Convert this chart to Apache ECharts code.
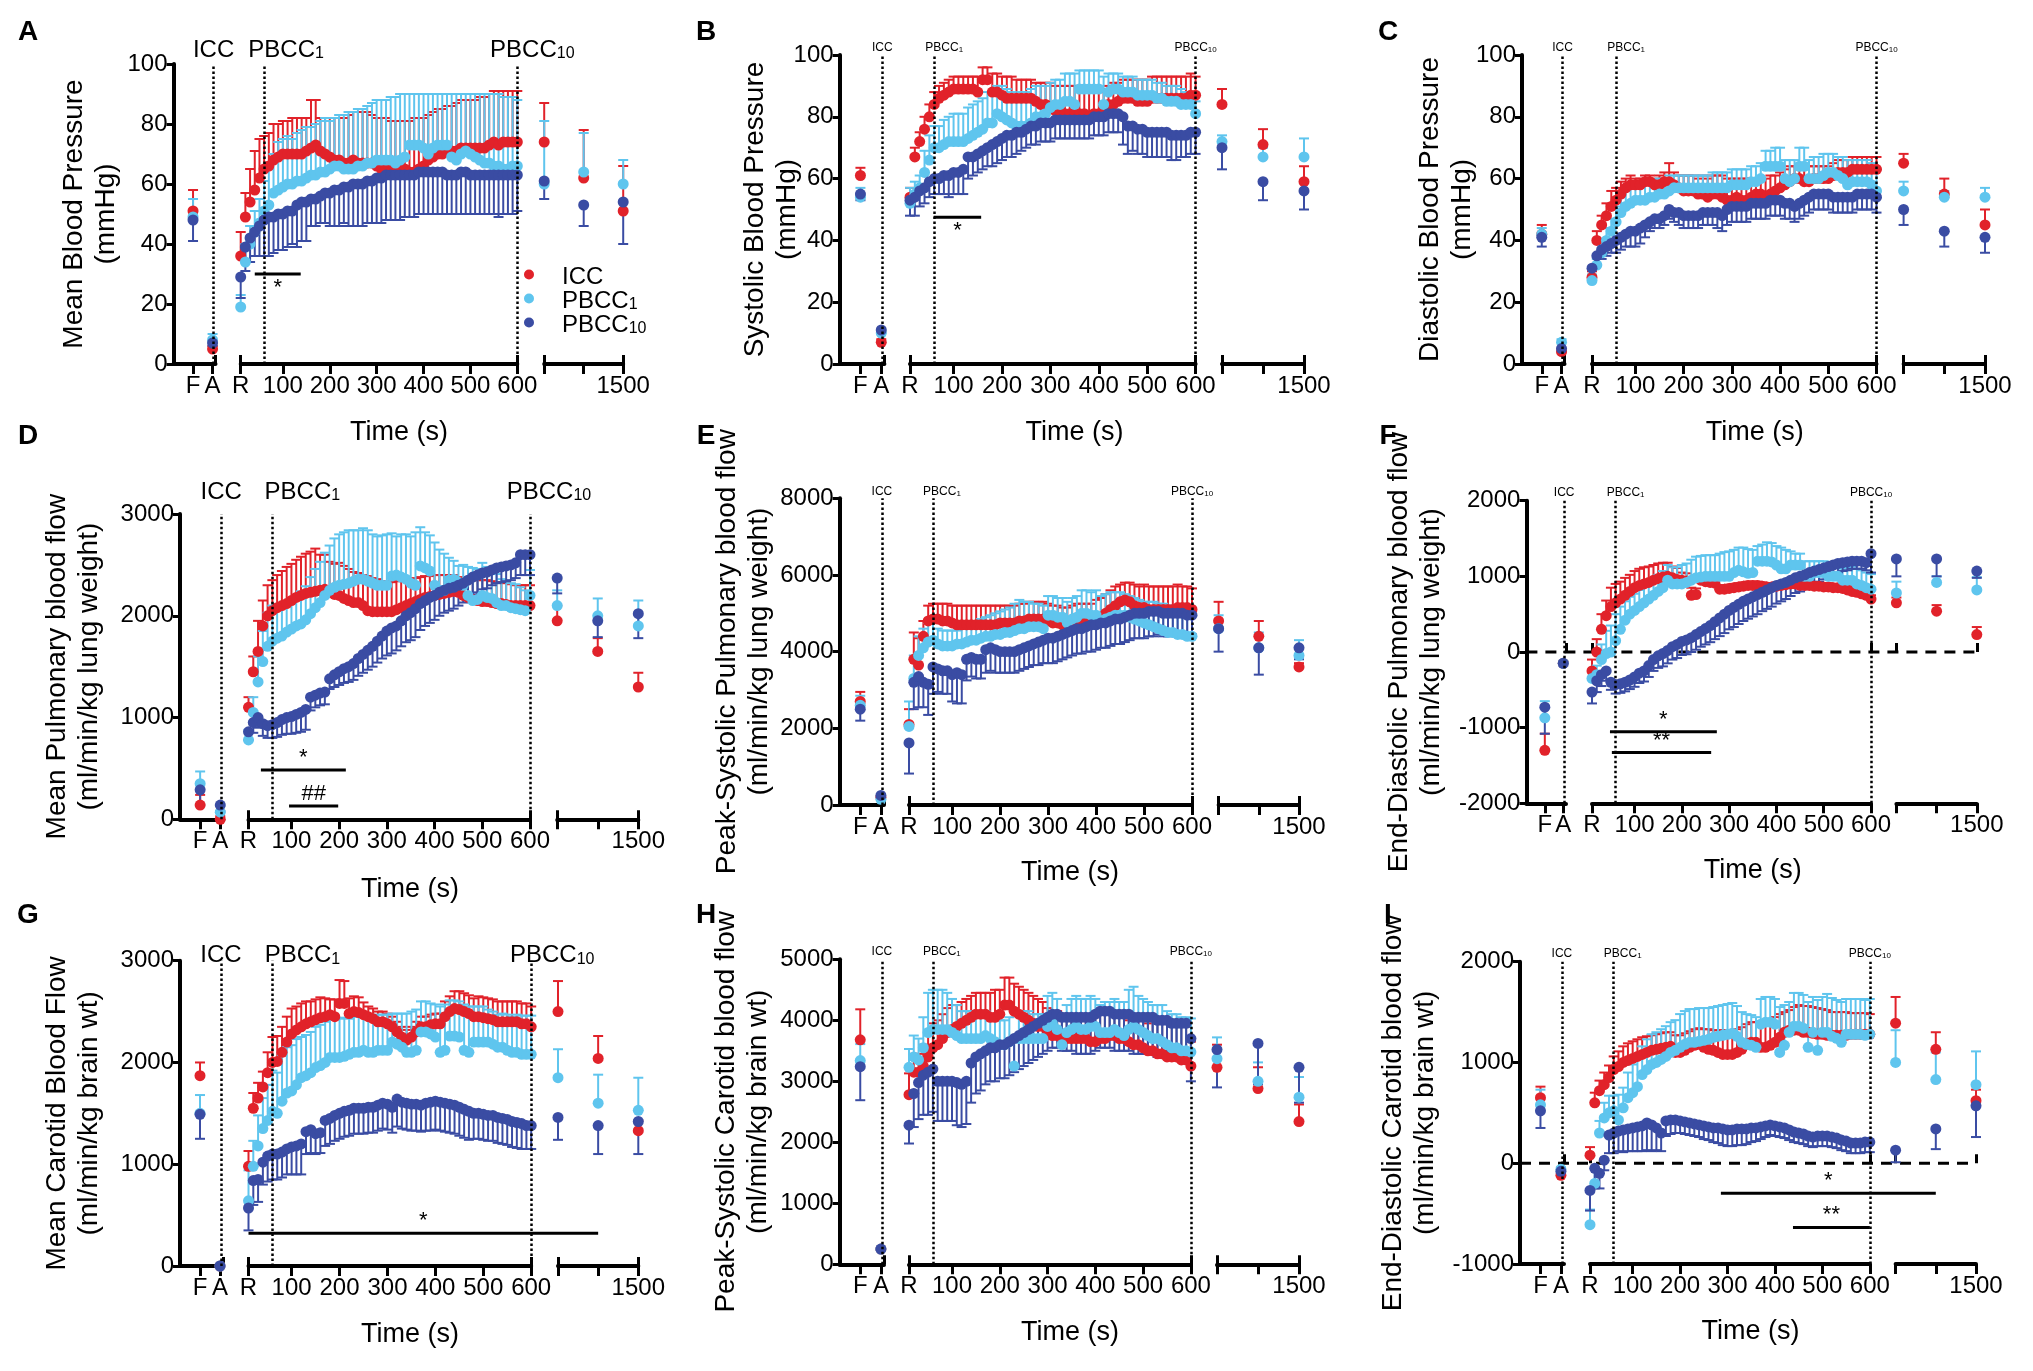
<!DOCTYPE html>
<html>
<head>
<meta charset="UTF-8">
<title>Haemodynamics after cardiac arrest</title>
<script src="https://cdn.jsdelivr.net/npm/echarts@6.0.0/dist/echarts.min.js"></script>
<style>
  html, body { margin: 0; padding: 0; background: #fff; }
  #main { width: 2033px; height: 1371px; }
</style>
</head>
<body>
<div id="main"></div>
<script type="text/javascript">
// ---- shared axis data ----
var secs = [10,20,30,40,50,60,70,80,90,100,110,120,130,140,150,160,170,180,190,200,
  210,220,230,240,250,260,270,280,290,300,310,320,330,340,350,360,370,380,390,400,
  410,420,430,440,450,460,470,480,490,500,510,520,530,540,550,560,570,580,590,600];
var preX = [1, 2];
var preLabels = ['F', 'A'];
var postX = [900, 1200, 1500];
var mainTicks = [10, 100, 200, 300, 400, 500, 600];
var mainTickLabels = ['R', '100', '200', '300', '400', '500', '600'];
var groups = ['ICC', 'PBCC1', 'PBCC10'];
var colors = ['#E1222A', '#5FC5EE', '#3A4CA3'];
var errDir = [1, 1, -1];   // ICC / PBCC1 bars up, PBCC10 bars down
// side arrays: [F, A, 900, 1200, 1500]

// A  Mean blood pressure (mmHg)
var aIcc = [36,49,54,58,62,65,66,68,69,70, 70,70,70,70,71,72,73,71,70,69,
  68,68,67,67,68,67,67,67,67,66, 65,65,64,65,65,65,64,64,65,66,
  68,69,70,70,71,71,71,72,72,72, 72,72,72,73,74,73,74,74,74,74];
var aIccErr = [8,8,11,13,13,11,11,12,11,11, 11,12,12,12,11,16,15,11,12,13,
  14,14,15,16,16,17,17,17,16,16, 17,17,17,16,16,16,17,18,17,16,
  15,15,15,15,15,15,16,16,16,16, 16,17,17,17,17,18,17,17,17,17];
var aIccSide = [51, 5, 74, 62, 51];
var aIccSideErr = [7, 1, 13, 16, 15];
var aPb1 = [19,34,40,44,47,51,53,57,58,59, 60,60,61,61,62,63,63,64,64,65,
  66,66,65,65,65,66,66,67,67,68, 68,68,68,67,68,69,73,73,73,72,
  70,72,73,73,73,69,68,70,71,70, 69,68,67,67,66,66,65,65,66,66];
var aPb1Err = [4,6,6,7,8,10,14,13,16,16, 16,15,16,17,17,16,17,17,18,16,
  16,17,18,19,19,19,19,19,20,20, 20,20,21,22,22,21,17,17,17,18,
  20,18,17,17,17,21,22,20,19,20, 21,22,23,23,24,24,24,24,23,22];
var aPb1Side = [49, 8, 60, 64, 60];
var aPb1SideErr = [6, 2, 21, 13, 8];
var aPb10 = [29,39,42,44,46,48,49,49,50,50, 51,51,53,54,54,55,55,56,57,57,
  58,58,59,59,60,60,60,61,61,62, 62,63,63,63,63,63,63,63,64,64,
  64,64,64,64,63,63,63,64,64,63, 63,63,63,63,63,63,63,63,63,63];
var aPb10Err = [7,8,8,8,10,12,13,12,12,12, 12,11,14,13,13,9,9,9,10,11,
  12,12,12,13,14,14,14,14,14,15, 15,15,15,15,15,14,14,14,14,14,
  14,14,14,14,13,13,13,14,14,13, 13,13,13,13,13,14,13,13,13,12];
var aPb10Side = [48, 7, 61, 53, 54];
var aPb10SideErr = [7, 1, 6, 7, 14];

// B  Systolic blood pressure (mmHg)
var bIcc = [54,67,72,76,80,84,86,87,88,89, 89,89,89,89,88,92,92,88,88,87,
  86,86,86,86,86,86,85,84,84,83, 82,82,81,81,81,81,81,80,81,81,
  83,84,84,85,86,86,86,85,85,85, 86,86,86,86,86,86,86,86,87,87];
var bIccErr = [3,3,3,4,4,4,4,4,4,4, 4,4,4,4,5,4,4,6,6,6,
  7,7,6,6,6,6,6,7,7,8, 8,8,9,9,9,9,8,8,8,7,
  6,6,7,6,6,6,6,7,7,7, 7,7,7,7,7,7,7,7,7,6];
var bIccSide = [61, 7, 84, 71, 59];
var bIccSideErr = [2.5, 1, 5, 5, 5];
var bPb1 = [52,55,57,62,66,70,70,71,72,72, 72,72,73,74,75,76,78,78,81,80,
  79,78,77,77,77,78,80,80,81,83, 84,84,85,85,84,89,89,89,89,89,
  84,88,89,89,88,88,88,87,87,87, 87,86,86,85,85,85,84,84,84,81];
var bPb1Err = [5,4,4,7,8,7,7,8,8,9, 9,9,10,10,10,10,10,10,9,10,
  10,10,10,11,11,11,10,10,9,8, 8,8,9,9,10,6,6,6,6,6,
  9,6,5,5,5,5,5,5,5,5, 5,5,5,5,5,5,5,4,4,4];
var bPb1Side = [54, 10, 72, 67, 67];
var bPb1SideErr = [3, 1, 2, 3, 6];
var bPb10 = [53,54,56,57,59,60,60,61,61,62, 62,63,67,67,68,69,70,71,72,73,
  74,74,75,75,76,77,77,78,78,78, 79,79,79,79,79,79,79,79,80,80,
  80,81,81,81,80,77,77,76,76,75, 75,75,75,75,74,74,74,74,75,75];
var bPb10Err = [5,6,5,5,5,5,5,6,7,7, 7,8,7,6,6,6,6,7,7,7,
  7,7,7,6,6,6,6,6,6,6, 6,6,6,6,6,6,6,6,6,6,
  6,6,6,6,9,9,8,8,8,8, 8,8,8,8,8,8,7,7,7,7];
var bPb10Side = [55, 11, 70, 59, 56];
var bPb10SideErr = [2, 1, 7, 6, 6];

// C  Diastolic blood pressure (mmHg)
var cIcc = [28,40,45,48,51,53,55,57,58,58, 58,59,59,58,58,59,59,58,57,56,
  56,56,55,55,54,55,55,54,53,53, 54,53,53,54,55,55,54,55,56,57,
  58,59,60,60,59,59,60,60,60,60, 61,62,62,62,63,63,63,63,63,63];
var cIccErr = [2,3,3,4,5,4,4,3,3,2, 2,2,2,2,3,3,6,4,4,5,
  5,5,5,6,6,6,6,7,7,7, 6,7,7,6,5,5,6,6,5,5,
  5,5,4,4,5,5,4,4,4,4, 4,4,4,4,4,4,4,4,4,4];
var cIccSide = [42, 4, 65, 55, 45];
var cIccSideErr = [3, 1, 3, 5, 5];
var cPb1 = [27,32,36,40,43,46,49,51,52,53, 53,53,54,54,55,55,56,57,57,57,
  57,57,57,57,57,57,57,57,57,58, 58,58,58,59,59,60,64,64,64,64,
  60,59,60,64,64,60,60,60,61,62, 62,61,60,58,59,59,59,59,58,56];
var cPb1Err = [2,2,3,4,4,5,5,5,5,5, 5,5,5,5,5,5,5,4,4,4,
  4,4,4,4,4,5,5,5,5,5, 5,5,5,5,5,5,5,5,6,6,
  6,7,6,6,6,6,7,7,7,6, 6,6,7,8,7,7,7,7,7,7];
var cPb1Side = [42, 7, 56, 54, 54];
var cPb1SideErr = [2, 1, 3, 2, 3];
var cPb10 = [31,35,37,38,39,40,41,42,43,43, 44,45,46,47,47,48,50,49,49,48,
  48,48,48,49,49,49,49,48,50,51, 51,51,51,52,52,52,52,53,53,53,
  52,52,51,52,53,54,55,55,55,55, 54,54,54,54,54,55,55,55,55,54];
var cPb10Err = [3,3,3,3,3,4,4,4,5,5, 5,4,3,3,3,3,3,3,4,4,
  4,4,4,4,4,4,5,5,5,5, 5,5,5,5,5,5,5,5,5,5,
  5,5,5,5,5,5,5,5,5,5, 5,5,5,5,5,5,5,5,5,5];
var cPb10Side = [41, 5, 50, 43, 41];
var cPb10SideErr = [3, 1, 5, 5, 5];

// D  Mean pulmonary blood flow (ml/min/kg lung weight)
var dIcc = [1100,1450,1650,1900,2000,2050,2080,2100,2120,2150, 2180,2200,2220,2230,2240,2250,2260,2230,2210,2200,
  2170,2150,2130,2130,2100,2050,2040,2040,2040,2040, 2040,2060,2080,2100,2120,2140,2160,2180,2190,2200,
  2210,2220,2230,2240,2230,2200,2180,2160,2150,2140, 2140,2130,2120,2120,2110,2100,2100,2100,2100,2100];
var dIccErr = [100,150,300,250,300,300,320,340,360,360, 370,380,390,400,420,350,340,300,300,320,
  320,310,300,290,300,340,330,320,300,300, 290,280,260,250,240,230,220,210,200,200,
  190,180,170,160,150,170,180,190,200,210, 210,210,210,210,210,210,200,200,200,200];
var dIccSide = [140, 0, 1950, 1650, 1300];
var dIccSideErr = [100, 30, 150, 130, 140];
var dPb1 = [780,1050,1350,1550,1700,1750,1780,1800,1840,1870, 1900,1920,1960,2020,2080,2130,2200,2250,2280,2300,
  2310,2320,2340,2360,2360,2340,2320,2300,2300,2300, 2390,2400,2380,2360,2320,2300,2490,2470,2440,2300,
  2250,2250,2350,2360,2330,2300,2200,2150,2160,2200, 2180,2170,2130,2100,2100,2080,2070,2060,2050,2200];
var dPb1Err = [100,150,250,300,330,350,330,300,280,280, 280,320,330,360,380,400,420,440,480,500,
  510,520,500,480,500,500,480,480,490,500, 420,380,420,440,460,520,380,350,350,420,
  400,360,220,180,160,200,280,320,300,320, 300,280,280,260,240,240,240,220,200,250];
var dPb1Side = [350, 70, 2100, 2000, 1900];
var dPb1SideErr = [120, 60, 150, 170, 250];
var dPb10 = [860,950,1000,940,920,930,950,980,1000,1010, 1030,1050,1080,1200,1220,1240,1250,1380,1420,1450,
  1480,1500,1530,1580,1620,1660,1700,1750,1800,1850, 1880,1900,1950,2000,2030,2070,2120,2150,2180,2200,
  2230,2250,2270,2280,2300,2320,2350,2380,2400,2420, 2430,2450,2470,2480,2490,2500,2520,2600,2600,2600];
var dPb10Err = [80,100,100,120,120,130,140,150,160,170, 180,190,200,130,120,120,120,100,120,130,
  140,150,160,170,180,190,200,210,220,240, 250,240,250,260,270,280,260,250,250,240,
  230,220,220,210,200,190,180,170,170,160, 160,150,150,150,150,150,150,200,200,200];
var dPb10Side = [290, 140, 2370, 1950, 2020];
var dPb10SideErr = [150, 60, 150, 160, 240];

// E  Peak-systolic pulmonary blood flow (ml/min/kg lung weight)
var eIcc = [2100,3800,3650,4400,4800,4850,4850,4800,4800,4750, 4700,4700,4700,4700,4700,4700,4700,4700,4700,4750,
  4750,4750,4750,4800,4800,4850,4850,4850,4850,4800, 4750,4750,4700,4700,4750,4800,4800,4800,4800,4850,
  4900,5000,5100,5200,5300,5350,5300,5200,5150,5150, 5100,5100,5100,5100,5100,5100,5150,5150,5150,5100];
var eIccErr = [400,700,700,400,400,400,400,450,450,450, 500,500,500,500,500,500,500,500,500,450,
  450,450,450,450,450,450,450,450,450,450, 450,450,450,450,450,450,450,450,450,500,
  500,500,500,500,450,450,500,550,550,600, 600,600,600,600,600,600,600,550,550,550];
var eIccSide = [2700, 200, 4800, 4400, 3600];
var eIccSideErr = [250, 30, 500, 400, 100];
var ePb1 = [2050,3300,3900,4100,4250,4300,4200,4150,4150,4150, 4200,4200,4250,4300,4300,4350,4400,4400,4450,4450,
  4500,4500,4550,4600,4600,4650,4650,4650,4600,4950, 4950,4900,4900,4750,4850,4900,5000,5000,4950,4950,
  4800,4850,4900,4950,4950,4950,4900,4850,4800,4750, 4700,4650,4600,4550,4500,4500,4450,4450,4400,4400];
var ePb1Err = [650,600,500,500,500,500,400,400,400,400, 350,400,400,400,500,500,500,550,550,600,
  600,650,700,750,700,650,600,600,600,500, 500,500,500,550,550,550,600,600,600,650,
  650,650,650,600,600,550,550,550,550,550, 600,650,650,700,700,700,700,700,700,700];
var ePb1Side = [2600, 150, 4600, 4100, 3900];
var ePb1SideErr = [250, 30, 350, 400, 400];
var ePb10 = [1620,3200,3350,3200,3150,3600,3550,3500,3500,3400, 3450,3400,3800,3850,3800,3800,4050,4100,4050,4000,
  4000,4000,4000,4050,4100,4150,4200,4250,4300,4350, 4350,4400,4450,4500,4550,4600,4600,4650,4700,4700,
  4750,4750,4800,4850,4850,4900,4950,5000,5000,5000, 5050,5050,5050,5000,5000,5000,5000,5000,4950,4950];
var ePb10Err = [800,700,800,650,800,700,600,600,600,700, 800,750,550,500,500,500,600,600,600,550,
  550,550,550,550,550,550,550,600,600,650, 650,650,650,650,650,650,650,650,700,650,
  650,650,650,650,650,650,650,650,650,650, 650,650,600,600,600,550,550,550,500,500];
var ePb10Side = [2500, 250, 4600, 4100, 4100];
var ePb10SideErr = [300, 30, 600, 700, 300];

// F  End-diastolic pulmonary blood flow (ml/min/kg lung weight)
var fIcc = [-250,0,300,480,600,650,700,750,800,850, 880,900,920,950,970,990,1000,980,960,950,
  940,750,760,950,930,920,910,830,830,840, 850,860,870,880,880,880,870,860,860,870,
  880,890,900,900,880,880,880,870,870,860, 860,850,850,840,820,800,790,770,750,700];
var fIccErr = [150,170,200,200,250,250,230,230,220,220, 220,220,210,200,200,190,180,150,150,100,
  100,100,80,50,50,50,50,50,50,50, 50,50,50,50,50,50,50,50,50,50,
  50,50,50,50,50,50,50,50,50,50, 50,50,50,50,50,50,50,50,50,50];
var fIccSide = [-1300, -150, 650, 540, 230];
var fIccSideErr = [220, 30, 70, 80, 100];
var fPb1 = [-350,-300,-100,-20,0,150,300,420,500,550, 600,650,700,750,800,850,950,900,900,900,
  920,950,980,990,1000,1000,1000,1000,1000,1000, 1050,1080,1060,1040,1050,1200,1200,1200,1190,1150,
  1100,1100,1150,1150,1150,1000,1000,1050,1050,1050, 1000,1000,1000,950,950,950,900,880,850,830];
var fPb1Err = [100,120,200,300,350,350,300,250,230,220, 220,220,220,220,220,220,200,220,220,250,
  250,270,280,280,280,280,280,300,320,330, 300,300,320,320,300,200,220,250,250,250,
  280,250,180,150,150,200,200,150,150,150, 150,150,150,150,170,180,200,200,200,200];
var fPb1Side = [-870, -150, 780, 920, 820];
var fPb1SideErr = [220, 30, 150, 80, 170];
var fPb10 = [-530,-380,-300,-250,-400,-430,-420,-400,-370,-330, -280,-250,-180,-100,-50,-20,20,70,100,140,
  160,190,230,270,310,350,400,450,500,550, 590,630,670,700,730,760,790,820,850,880,
  900,920,950,980,1000,1020,1050,1070,1090,1110, 1130,1150,1170,1180,1190,1200,1200,1200,1180,1300];
var fPb10Err = [150,150,150,130,100,120,120,120,120,130, 130,140,150,150,160,170,170,170,180,180,
  190,190,200,200,210,220,230,240,250,250, 260,260,260,260,260,260,250,250,250,240,
  230,220,210,200,200,190,180,170,160,150, 140,130,120,110,110,100,100,100,100,250];
var fPb10Side = [-730, -150, 1230, 1230, 1070];
var fPb10SideErr = [350, 30, 230, 230, 90];

// G  Mean carotid blood flow (ml/min/kg brain wt)
var gIcc = [980,1550,1650,1760,1900,2000,2010,2100,2200,2280, 2320,2350,2380,2400,2420,2440,2450,2470,2450,2580,
  2580,2480,2500,2490,2470,2450,2430,2400,2400,2380, 2350,2300,2250,2220,2250,2300,2350,2350,2370,2380,
  2380,2450,2500,2530,2520,2500,2480,2450,2450,2440, 2430,2420,2400,2400,2400,2400,2400,2380,2380,2350];
var gIccErr = [150,150,150,150,200,250,250,250,250,250, 230,230,220,200,200,200,180,150,170,230,
  220,150,150,150,120,100,100,100,100,100, 100,100,100,100,100,100,100,100,100,100,
  100,150,150,170,180,180,180,180,200,200, 200,200,200,200,200,200,200,200,200,200];
var gIccSide = [1870, 0, 2500, 2040, 1330];
var gIccSideErr = [130, 10, 300, 220, 100];
var gPb1 = [640,980,1180,1350,1430,1520,1500,1620,1700,1720, 1780,1850,1870,1900,1950,1970,2000,2050,2050,2050,
  2060,2080,2100,2100,2120,2100,2100,2120,2120,2120, 2200,2180,2150,2100,2100,2120,2300,2300,2280,2250,
  2100,2120,2260,2260,2250,2120,2100,2200,2200,2200, 2200,2180,2150,2150,2120,2100,2100,2080,2080,2080];
var gPb1Err = [300,250,300,300,350,400,400,450,450,450, 450,400,400,400,400,400,400,380,380,380,
  380,350,350,350,350,350,350,350,350,350, 280,300,330,380,400,400,300,300,300,320,
  450,450,350,350,350,450,450,350,350,350, 320,320,320,330,350,350,370,380,380,380];
var gPb1Side = [1500, 0, 1850, 1600, 1530];
var gPb1SideErr = [180, 10, 280, 280, 320];
var gPb10 = [570,840,850,1020,1080,1100,1100,1120,1150,1170, 1180,1200,1320,1340,1300,1310,1430,1450,1480,1500,
  1520,1530,1550,1550,1550,1560,1560,1580,1600,1590, 1560,1640,1610,1600,1590,1590,1580,1600,1610,1620,
  1610,1600,1590,1580,1560,1540,1520,1500,1500,1490, 1480,1480,1460,1450,1440,1420,1410,1400,1380,1380];
var gPb10Err = [220,240,220,220,250,250,250,250,250,270, 280,300,220,230,200,200,250,250,250,250,
  250,250,250,250,250,250,250,250,250,250, 250,270,260,260,260,260,260,270,280,280,
  280,280,280,280,280,280,280,250,250,250, 250,250,250,250,250,250,250,250,230,230];
var gPb10Side = [1490, 0, 1460, 1380, 1420];
var gPb10SideErr = [240, 10, 220, 280, 320];

// H  Peak-systolic carotid blood flow (ml/min/kg brain wt)
var hIcc = [2780,3150,3150,3250,3400,3550,3600,3700,3800,3850, 3900,3950,4000,4050,4100,4100,4100,4050,4050,4100,
  4250,4250,4150,4100,4050,4000,3950,3900,3900,3800, 3750,3750,3700,3700,3700,3700,3700,3700,3650,3650,
  3700,3700,3750,3750,3700,3700,3650,3600,3600,3550, 3500,3500,3450,3450,3400,3400,3400,3350,3350,3250];
var hIccErr = [350,300,300,350,400,400,400,400,400,400, 350,350,350,350,350,350,350,400,450,400,
  450,450,450,450,450,450,450,450,400,400, 400,400,400,400,400,400,400,400,400,400,
  400,400,350,350,350,350,350,400,400,450, 450,500,500,500,550,550,550,550,550,400];
var hIccSide = [3680, 250, 3230, 2880, 2340];
var hIccSideErr = [500, 20, 370, 350, 280];
var hPb1 = [3230,3400,3350,3550,3800,3850,3850,3850,3850,3800, 3750,3700,3700,3700,3700,3700,3750,3700,3650,3600,
  3600,3650,3250,3700,3700,3700,3700,3700,3700,3900, 3950,3850,3600,3800,3850,3900,3850,3850,3900,3900,
  3800,3800,3800,3850,3800,3750,3850,3900,3850,3800, 3750,3700,3700,3650,3600,3550,3550,3500,3500,3480];
var hPb1Err = [300,350,350,500,650,650,650,650,600,550, 500,450,450,450,400,400,400,400,400,400,
  400,400,400,400,450,450,400,400,400,500, 500,500,500,450,500,500,500,500,500,450,
  450,500,500,500,500,550,650,650,550,550, 550,550,550,600,550,550,550,550,550,550];
var hPb1Side = [3340, 250, 3370, 3000, 2740];
var hPb1SideErr = [270, 20, 350, 310, 330];
var hPb10 = [2280,2800,2980,3100,3150,3200,3000,3000,3000,3000, 2980,2950,3000,3300,3400,3450,3500,3550,3550,3600,
  3600,3650,3700,3750,3800,3850,3900,3950,4000,4050, 4100,4100,4050,4050,4050,4050,4050,4050,4050,4100,
  4150,4150,4150,4100,4100,4100,4100,4050,4050,4050, 4050,4050,4000,4000,4000,3950,3950,3950,3950,3700];
var hPb10Err = [300,550,600,650,700,700,650,650,650,650, 700,700,700,650,600,600,550,550,550,550,
  550,550,550,550,550,550,550,550,550,550, 550,550,550,550,550,600,600,600,600,600,
  600,600,600,600,600,600,600,600,600,600, 600,600,600,600,600,600,600,600,600,700];
var hPb10Side = [3240, 250, 3520, 3620, 3230];
var hPb10SideErr = [550, 20, 620, 670, 580];

// I  End-diastolic carotid blood flow (ml/min/kg brain wt)
var iIcc = [80,600,720,780,850,930,960,1000,1020,1040, 1060,1080,1100,1120,1130,1140,1150,1160,1100,1100,
  1120,1150,1170,1180,1150,1130,1120,1100,1080,1080, 1080,1100,1130,1180,1200,1200,1150,1150,1170,1200,
  1250,1300,1320,1320,1320,1300,1300,1290,1280,1280, 1270,1270,1270,1270,1270,1280,1280,1280,1280,1280];
var iIccErr = [80,100,100,120,120,130,150,160,170,170, 170,170,160,150,150,150,150,140,170,170,
  170,160,160,160,180,200,200,220,240,240, 240,230,220,200,200,200,250,260,250,250,
  230,200,200,230,250,260,260,260,260,250, 250,230,230,230,230,210,210,210,210,200];
var iIccSide = [650, -120, 1390, 1130, 620];
var iIccSideErr = [110, 20, 260, 170, 110];
var iPb1 = [-610,-200,300,450,500,520,430,550,650,700, 760,880,930,980,1000,1030,1060,1100,1120,1150,
  1180,1200,1200,1210,1220,1230,1250,1260,1270,1280, 1290,1260,1200,1180,1170,1150,1380,1400,1400,1380,
  1100,1170,1300,1360,1360,1340,1150,1300,1120,1300, 1300,1260,1240,1200,1280,1280,1280,1280,1270,1280];
var iPb1Err = [150,150,120,150,170,150,250,200,250,280, 300,280,300,300,300,300,300,300,300,330,
  330,330,330,330,320,310,300,300,300,300, 300,300,300,300,300,300,250,250,250,250,
  450,400,300,330,330,330,450,350,500,350, 380,380,380,400,350,350,350,350,350,350];
var iPb1Side = [580, -60, 1000, 830, 780];
var iPb1SideErr = [150, 20, 320, 270, 330];
var iPb10 = [-270,-50,-100,30,280,300,320,330,340,350, 360,370,400,380,350,300,420,430,430,420,
  410,400,390,380,370,360,350,350,340,330, 330,340,340,340,350,350,360,370,380,370,
  360,350,330,310,300,290,270,260,270,270, 270,260,250,230,220,200,200,200,210,210];
var iPb10Err = [200,200,150,100,180,200,200,220,220,230, 240,250,270,260,220,180,150,140,130,120,
  120,120,120,120,130,130,140,150,160,160, 160,160,160,150,140,130,120,110,100,100,
  100,100,100,100,100,100,100,100,100,100, 100,100,100,100,100,100,100,100,100,100];
var iPb10Side = [520, -80, 130, 340, 570];
var iPb10SideErr = [170, 20, 120, 200, 310];

// ---- panel layout (pixels) ----
var panels = [
  { id: 'A', title: 'Mean Blood Pressure\n(mmHg)', y: [0, 100, 20],
    data: [[aIcc, aIccErr, aIccSide, aIccSideErr], [aPb1, aPb1Err, aPb1Side, aPb1SideErr], [aPb10, aPb10Err, aPb10Side, aPb10SideErr]],
    box: { axis: 173.5, top: 64, bottom: 364, s1: 215.5, s2: [240.7, 517.3], s3: [544.2, 623.2] },
    titleX: 90, time: [399, 433], letter: [28, 32], big: true, lblGap: 2, shift: [22, 15],
    sig: [{ from: [1, 40], to: [1, 138], y: 30, text: '*', below: true }] },
  { id: 'B', title: 'Systolic Blood Pressure\n(mmHg)', y: [0, 100, 20],
    data: [[bIcc, bIccErr, bIccSide, bIccSideErr], [bPb1, bPb1Err, bPb1Side, bPb1SideErr], [bPb10, bPb10Err, bPb10Side, bPb10SideErr]],
    box: { axis: 839.6, top: 55, bottom: 364, s1: 884.4, s2: [910, 1195.6], s3: [1222, 1304] },
    titleX: 771.5, time: [1074.6, 433], letter: [706, 32], big: false, lblGap: 1, shift: [10, 0],
    sig: [{ from: [1, 59], to: [1, 157], y: 47.5, text: '*', below: true }] },
  { id: 'C', title: 'Diastolic Blood Pressure\n(mmHg)', y: [0, 100, 20],
    data: [[cIcc, cIccErr, cIccSide, cIccSideErr], [cPb1, cPb1Err, cPb1Side, cPb1SideErr], [cPb10, cPb10Err, cPb10Side, cPb10SideErr]],
    box: { axis: 1522, top: 55, bottom: 364, s1: 1564.5, s2: [1592, 1876.5], s3: [1903.6, 1985] },
    titleX: 1446.5, time: [1754.8, 433], letter: [1388, 32], big: false, lblGap: 1, shift: [10, 0], sig: [] },
  { id: 'D', title: 'Mean Pulmonary blood flow\n(ml/min/kg lung weight)', y: [0, 3000, 1000],
    data: [[dIcc, dIccErr, dIccSide, dIccSideErr], [dPb1, dPb1Err, dPb1Side, dPb1SideErr], [dPb10, dPb10Err, dPb10Side, dPb10SideErr]],
    box: { axis: 180, top: 514, bottom: 819.3, s1: 223.3, s2: [248.5, 530], s3: [557.2, 638.3] },
    titleX: 73.5, time: [410, 890], letter: [28, 436], big: true, lblGap: 10, shift: [30, 19],
    sig: [{ from: [1, 36], to: [1, 214], y: 484, text: '*' }, { from: [1, 95], to: [1, 198], y: 131, text: '##' }] },
  { id: 'E', title: 'Peak-Systolic Pulmonary blood flow\n(ml/min/kg lung weight)', y: [0, 8000, 2000],
    data: [[eIcc, eIccErr, eIccSide, eIccSideErr], [ePb1, ePb1Err, ePb1Side, ePb1SideErr], [ePb10, ePb10Err, ePb10Side, ePb10SideErr]],
    box: { axis: 839.6, top: 498.3, bottom: 805, s1: 884, s2: [909, 1192], s3: [1218.6, 1299] },
    titleX: 743.3, time: [1070, 873], letter: [706, 436], big: false, lblGap: 1, shift: [9, 0], sig: [] },
  { id: 'F', title: 'End-Diastolic Pulmonary blood flow\n(ml/min/kg lung weight)', y: [-2000, 2000, 1000],
    data: [[fIcc, fIccErr, fIccSide, fIccSideErr], [fPb1, fPb1Err, fPb1Side, fPb1SideErr], [fPb10, fPb10Err, fPb10Side, fPb10SideErr]],
    box: { axis: 1526.4, top: 500.7, bottom: 803.3, s1: 1566, s2: [1592, 1871], s3: [1896.4, 1976.8] },
    titleX: 1415.4, time: [1752.7, 870.7], letter: [1388, 436], big: false, lblGap: 2, shift: [10, 0], zero: true,
    sig: [{ from: [1, 48], to: [1, 274], y: -1053, text: '*' }, { from: [1, 52], to: [1, 262], y: -1330, text: '**' }] },
  { id: 'G', title: 'Mean Carotid Blood Flow\n(ml/min/kg brain wt)', y: [0, 3000, 1000],
    data: [[gIcc, gIccErr, gIccSide, gIccSideErr], [gPb1, gPb1Err, gPb1Side, gPb1SideErr], [gPb10, gPb10Err, gPb10Side, gPb10SideErr]],
    box: { axis: 180, top: 960.7, bottom: 1266, s1: 223, s2: [248.5, 531.2], s3: [558, 638.3] },
    titleX: 73.5, time: [410, 1335], letter: [28, 915], big: true, lblGap: -7, shift: [30, 21],
    sig: [{ from: [1, 10], to: [2, 1200], y: 321, text: '*' }] },
  { id: 'H', title: 'Peak-Systolic Carotid blood flow\n(ml/min/kg brain wt)', y: [0, 5000, 1000],
    data: [[hIcc, hIccErr, hIccSide, hIccSideErr], [hPb1, hPb1Err, hPb1Side, hPb1SideErr], [hPb10, hPb10Err, hPb10Side, hPb10SideErr]],
    box: { axis: 839.6, top: 959.3, bottom: 1264.3, s1: 884, s2: [909, 1190.9], s3: [1217, 1299] },
    titleX: 742.3, time: [1070, 1332.7], letter: [706, 915], big: false, lblGap: 2, shift: [9, 0], sig: [] },
  { id: 'I', title: 'End-Diastolic Carotid blood flow\n(ml/min/kg brain wt)', y: [-1000, 2000, 1000],
    data: [[iIcc, iIccErr, iIccSide, iIccSideErr], [iPb1, iPb1Err, iPb1Side, iPb1SideErr], [iPb10, iPb10Err, iPb10Side, iPb10SideErr]],
    box: { axis: 1520, top: 961.7, bottom: 1264, s1: 1564, s2: [1590, 1869.8], s3: [1895.6, 1976] },
    titleX: 1409, time: [1750.5, 1331.7], letter: [1388, 915], big: false, lblGap: 2, shift: [9, 0], zero: true,
    sig: [{ from: [1, 286], to: [2, 1200], y: -297, text: '*' }, { from: [1, 438], to: [1, 600], y: -637, text: '**' }] }
];

var FONT = '"Liberation Sans", Arial, sans-serif';

function richFor(size) {
  return {
    m: { fontSize: size, lineHeight: Math.round(size * 1.2), verticalAlign: 'bottom', color: '#000' },
    s: { fontSize: Math.round(size * 0.65), lineHeight: Math.round(size * 0.65), verticalAlign: 'bottom', color: '#000' }
  };
}
function subText(name) {
  if (name.indexOf('PBCC') === 0) return '{m|PBCC}{s|' + name.slice(4) + '}';
  return '{m|' + name + '}';
}

function errItem(color, dir) {
  return function (params, api) {
    var x = api.value(0), y = api.value(1), e = api.value(2);
    var a = api.coord([x, y]);
    var b = api.coord([x, y + dir * e]);
    return {
      type: 'group',
      children: [
        { type: 'line', shape: { x1: a[0], y1: a[1], x2: b[0], y2: b[1] }, style: { stroke: color, lineWidth: 2 } },
        { type: 'line', shape: { x1: b[0] - 5, y1: b[1], x2: b[0] + 5, y2: b[1] }, style: { stroke: color, lineWidth: 2 } }
      ]
    };
  };
}

var option = {
  animation: false,
  backgroundColor: '#fff',
  textStyle: { fontFamily: FONT, color: '#000' },
  legend: {
    data: groups, orient: 'vertical', left: 519, top: 260, icon: 'circle',
    itemWidth: 40, itemHeight: 10, itemGap: 0, selectedMode: false,
    formatter: subText,
    textStyle: { fontSize: 24, color: '#000', padding: [0, 0, 0, 8], rich: richFor(24) }
  },
  grid: [], xAxis: [], yAxis: [], series: []
};

panels.forEach(function (p) {
  p.xIdx = []; p.yIdx = [];
  var b = p.box;
  var segs = [
    { left: b.axis, right: b.s1, min: 0, max: 2.15, ticks: preX, labels: preX, caps: [2.15],
      fmt: function (v) { return preLabels[preX.indexOf(v)]; } },
    { left: b.s2[0], right: b.s2[1], min: 10, max: 600, ticks: mainTicks, labels: mainTicks, caps: [10, 600],
      fmt: function (v) { return mainTickLabels[mainTicks.indexOf(v)]; } },
    { left: b.s3[0], right: b.s3[1], min: 900, max: 1500, ticks: postX, labels: [1500], caps: [900, 1500],
      fmt: function (v) { return String(v); } }
  ];
  var lblSize = p.big ? 24 : 12;
  segs.forEach(function (s, si) {
    var g = option.grid.length;
    option.grid.push({ left: s.left, top: b.top, width: s.right - s.left, height: b.bottom - b.top });
    var xi = option.xAxis.length;
    p.xIdx.push(xi);
    option.xAxis.push({
      gridIndex: g, type: 'value', min: s.min, max: s.max, position: 'bottom',
      axisLine: { onZero: false, lineStyle: { color: '#000', width: 4 } },
      axisTick: { customValues: s.ticks, length: 10, lineStyle: { color: '#000', width: 3 } },
      axisLabel: { customValues: s.labels, formatter: s.fmt, fontSize: 24, color: '#000', margin: 10 },
      splitLine: { show: false }
    });
    option.xAxis.push({
      gridIndex: g, type: 'value', min: s.min, max: s.max, position: 'bottom', offset: 0,
      axisLine: { show: false },
      axisTick: { inside: true, customValues: s.caps, length: 9, lineStyle: { color: '#000', width: 3 } },
      axisLabel: { show: false }, splitLine: { show: false }
    });
    var yi = option.yAxis.length;
    p.yIdx.push(yi);
    option.yAxis.push({
      gridIndex: g, type: 'value', min: p.y[0], max: p.y[1], interval: p.y[2], show: si === 0,
      axisLine: { show: true, onZero: false, lineStyle: { color: '#000', width: 4 } },
      axisTick: { show: true, length: 7, lineStyle: { color: '#000', width: 3 } },
      axisLabel: { fontSize: 24, color: '#000', margin: 6, formatter: function (v) { return String(v); } },
      splitLine: { show: false }
    });

    // guide lines (ICC / PBCC1 / PBCC10)
    var guides = [];
    var lbl = function (name, shift) {
      return { show: true, position: 'end', distance: p.lblGap, formatter: subText(name),
        rich: richFor(lblSize), padding: [0, 0, 0, Math.max(0, 2 * shift)] };
    };
    if (si === 0) guides.push({ xAxis: 2.05, label: lbl('ICC', 0) });
    if (si === 1) {
      guides.push({ xAxis: 60, label: lbl('PBCC1', p.shift[0]) });
      guides.push({ xAxis: 600, label: lbl('PBCC10', p.shift[1]) });
    }
    option.series.push({
      type: 'scatter', xAxisIndex: xi, yAxisIndex: yi, data: [], silent: true,
      markLine: {
        silent: true, symbol: ['none', 'none'], animation: false,
        lineStyle: { type: 'dotted', color: '#000', width: 2.5 },
        emphasis: { disabled: true },
        data: guides
      }
    });

    // error bars and points
    p.data.forEach(function (d, k) {
      var pts;
      if (si === 0) pts = preX.map(function (x, i) { return [x, d[2][i], d[3][i]]; });
      else if (si === 1) pts = secs.map(function (t, i) { return [t, d[0][i], d[1][i]]; });
      else pts = postX.map(function (x, i) { return [x, d[2][i + 2], d[3][i + 2]]; });
      option.series.push({
        type: 'custom', name: groups[k] + ' SEM', xAxisIndex: xi, yAxisIndex: yi, silent: true, clip: false,
        renderItem: errItem(colors[k], errDir[k]), encode: { x: 0, y: 1 }, data: pts
      });
      option.series.push({
        type: 'scatter', name: groups[k], xAxisIndex: xi, yAxisIndex: yi, silent: true,
        symbol: 'circle', symbolSize: 11, itemStyle: { color: colors[k], opacity: 1 },
        data: pts.map(function (q) { return [q[0], q[1]]; })
      });
    });
  });
});

var chart = echarts.init(document.getElementById('main'), null, { renderer: 'canvas' });
chart.setOption(option);

// text, significance bars and zero lines drawn after the scales exist
var gfx = [];
function px(p, seg, x, y) {
  return chart.convertToPixel({ xAxisIndex: p.xIdx[seg], yAxisIndex: p.yIdx[seg] }, [x, y]);
}
panels.forEach(function (p) {
  var midY = (p.box.top + p.box.bottom) / 2;
  gfx.push({ type: 'text', x: p.letter[0], y: p.letter[1],
    style: { text: p.id, font: 'bold 28px ' + FONT, fill: '#000', align: 'center', verticalAlign: 'middle' } });
  gfx.push({ type: 'text', x: p.titleX, y: midY, rotation: Math.PI / 2,
    style: { text: p.title, font: '28px ' + FONT, lineHeight: 32, fill: '#000', align: 'center', verticalAlign: 'middle' } });
  gfx.push({ type: 'text', x: p.time[0], y: p.time[1],
    style: { text: 'Time (s)', font: '27px ' + FONT, fill: '#000', align: 'center', verticalAlign: 'middle' } });
  if (p.zero) {
    var z0 = px(p, 0, 0, 0), z1 = px(p, 2, 1500, 0);
    gfx.push({ type: 'line', z: -1, shape: { x1: z0[0], y1: z0[1], x2: z1[0], y2: z1[1] },
      style: { stroke: '#000', lineWidth: 3, lineDash: [11, 8] } });
  }
  p.sig.forEach(function (s) {
    var a = px(p, s.from[0], s.from[1], s.y), c = px(p, s.to[0], s.to[1], s.y);
    gfx.push({ type: 'line', shape: { x1: a[0], y1: a[1], x2: c[0], y2: c[1] },
      style: { stroke: '#000', lineWidth: 3 } });
    gfx.push({ type: 'text', x: (a[0] + c[0]) / 2, y: s.below ? a[1] + 3 : a[1] - 1,
      style: { text: s.text, font: '22px ' + FONT, fill: '#000', align: 'center',
        verticalAlign: s.below ? 'top' : 'bottom' } });
  });
});
chart.setOption({ graphic: gfx });
</script>
</body>
</html>
